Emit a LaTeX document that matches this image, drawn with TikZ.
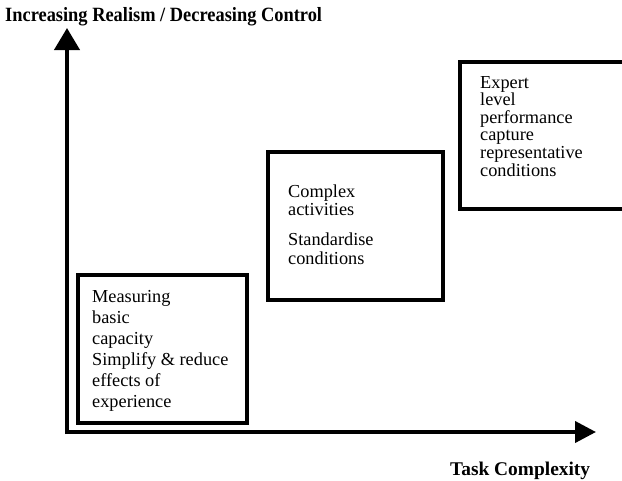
\documentclass[tikz,border=0pt]{standalone}
\usepackage{fontspec}
\setmainfont{Liberation Serif}
\usetikzlibrary{arrows.meta}

\tikzset{
  axis/.style={line width=4pt, -{Triangle[length=#1]}},
  stage/.style={draw, line width=3.6pt, rectangle, inner sep=0pt},
  stagetext/.style={align=left, inner sep=0pt, anchor=north west},
  axislabel/.style={inner sep=0pt, font=\bfseries\fontsize{18.4}{20}\selectfont},
}

\begin{document}
\begin{tikzpicture}[x=1pt, y=-1pt]
  \clip (0,0) rectangle (622,480);

  % axes, meeting in a square corner
  \coordinate (origin) at (67,432);
  \coordinate (ytip) at (67,28);
  \coordinate (xtip) at (596,432);
  \draw[axis={22pt,width=25pt}] ([yshift=-2pt]origin) -- (ytip);
  \draw[axis={21pt,width=21pt}] ([xshift=-2pt]origin) -- (xtip);

  \node[axislabel, anchor=base west] (ylab) at (5,21)
    {\scalebox{1}[1.1]{Increasing Realism / Decreasing Control}};
  \node[axislabel, font=\bfseries\fontsize{19.4}{20}\selectfont, anchor=base west] (xlab) at (450,475)
    {Task Complexity};

  % three stages, stepping up and to the right
  \node[stage, minimum width=169pt, minimum height=148pt] (s1) at (162.5,349) {};
  \node[stage, minimum width=175pt, minimum height=148pt] (s2) at (355.5,226) {};
  \node[stage, minimum width=170pt, minimum height=147pt] (s3) at (545,135.5) {};

  \node[stagetext, font=\fontsize{18.3}{21}\selectfont] (t1) at (92,290.6)
    {Measuring\\basic\\capacity\\Simplify \& reduce\\effects of\\experience};
  \node[stagetext, font=\fontsize{18.3}{18.5}\selectfont] (t2) at (288,184.2)
    {Complex\\activities\\[11.5pt]Standardise\\conditions};
  \node[stagetext, font=\fontsize{18.3}{17.6}\selectfont] (t3) at (480,75.9)
    {Expert\\level\\performance\\capture\\representative\\conditions};
\end{tikzpicture}
\end{document}
